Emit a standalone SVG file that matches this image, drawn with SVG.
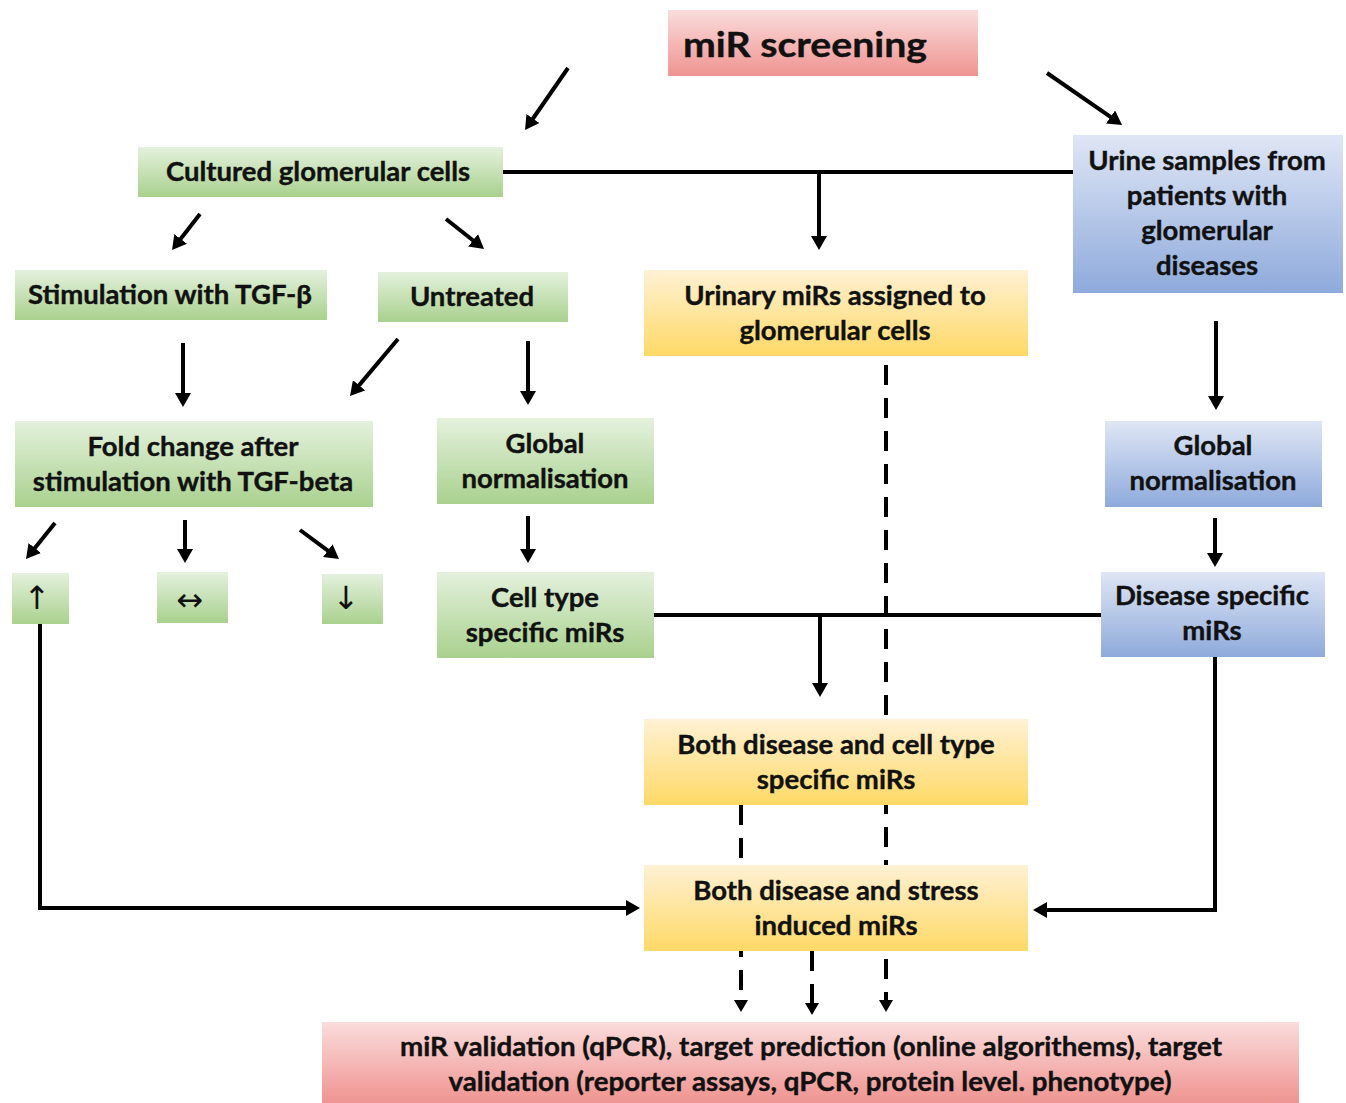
<svg xmlns="http://www.w3.org/2000/svg" width="1346" height="1103" viewBox="0 0 1346 1103">
<defs>
<linearGradient id="gGreen" x1="0" y1="0" x2="0" y2="1"><stop offset="0" stop-color="#e4f1dd"/><stop offset="1" stop-color="#a9d18e"/></linearGradient>
<linearGradient id="gYellow" x1="0" y1="0" x2="0" y2="1"><stop offset="0" stop-color="#fff1d4"/><stop offset="1" stop-color="#ffd966"/></linearGradient>
<linearGradient id="gBlue" x1="0" y1="0" x2="0" y2="1"><stop offset="0" stop-color="#dfe6f5"/><stop offset="1" stop-color="#8eaadb"/></linearGradient>
<linearGradient id="gPink" x1="0" y1="0" x2="0" y2="1"><stop offset="0" stop-color="#fadcdc"/><stop offset="1" stop-color="#ef9490"/></linearGradient>
<marker id="ah" viewBox="0 0 14 16" refX="3" refY="8" markerWidth="14" markerHeight="16" markerUnits="userSpaceOnUse" orient="auto"><path d="M0,0 L14,8 L0,16 z" fill="#000"/></marker>
<marker id="ahs" viewBox="0 0 12 14" refX="3" refY="7" markerWidth="12" markerHeight="14" markerUnits="userSpaceOnUse" orient="auto"><path d="M0,0 L12,7 L0,14 z" fill="#000"/></marker>
<style>
.c{fill:none;stroke:#000;stroke-width:4}
.a{marker-end:url(#ah)}
.d{stroke-dasharray:20 13;marker-end:url(#ahs)}
.t{font-family:Lato,"Open Sans",sans-serif;font-weight:bold;font-size:27.5px;fill:#111;text-anchor:middle;stroke:#111;stroke-width:0.4px}
.sym{font-family:"DejaVu Sans",sans-serif;font-size:32px;fill:#111;text-anchor:middle}
.green{fill:url(#gGreen)}
.yellow{fill:url(#gYellow)}
.blue{fill:url(#gBlue)}
.pink{fill:url(#gPink)}
</style>
</defs>
<rect width="1346" height="1103" fill="#fff"/>
<g id="connectors">
<path class="c a" d="M568,68 L531.3,121"/>
<path class="c a" d="M1047,73 L1113,118.7"/>
<path class="c" d="M503,172 H1073"/>
<path class="c a" d="M819,172 V239"/>
<path class="c a" d="M200,214 L178.8,241.3"/>
<path class="c a" d="M446,219 L475.4,242.2"/>
<path class="c a" d="M183,343 V396"/>
<path class="c a" d="M398,339 L357.1,387.6"/>
<path class="c a" d="M528,341 V394"/>
<path class="c a" d="M1216,321 V399"/>
<path class="c a" d="M55,523 L32.9,550.4"/>
<path class="c a" d="M185,520 V552"/>
<path class="c a" d="M300,530 L330.2,552.4"/>
<path class="c a" d="M528,516 V552"/>
<path class="c a" d="M1215,518 V556"/>
<path class="c" d="M654,615 H1101"/>
<path class="c a" d="M820,615 V686"/>
<path class="c a" d="M40,624 V908 H629"/>
<path class="c a" d="M1215,657 V910 H1044"/>
<path class="c d" d="M886,365 V1003"/>
<path class="c d" d="M741,805 V1003"/>
<path class="c d" d="M812,951 V1006"/>
</g>
<g id="n-screening"><rect class="pink" x="668" y="10" width="310" height="66"/><text class="t" x="683" y="57" style="font-size:35px;text-anchor:start" textLength="244" lengthAdjust="spacingAndGlyphs">miR screening</text></g>
<g id="n-cultured"><rect class="green" x="138" y="147" width="365" height="50"/><text class="t" x="318" y="181">Cultured glomerular cells</text></g>
<g id="n-stim"><rect class="green" x="15" y="270" width="312" height="50"/><text class="t" x="170" y="304">Stimulation with TGF-β</text></g>
<g id="n-untreated"><rect class="green" x="378" y="272" width="190" height="50"/><text class="t" x="472" y="306">Untreated</text></g>
<g id="n-urinary"><rect class="yellow" x="644" y="270" width="384" height="86"/><text class="t" x="835" y="305">Urinary miRs assigned to</text><text class="t" x="835" y="340">glomerular cells</text></g>
<g id="n-urine"><rect class="blue" x="1073" y="135" width="270" height="158"/><text class="t" x="1207" y="170">Urine samples from</text><text class="t" x="1207" y="205">patients with</text><text class="t" x="1207" y="240">glomerular</text><text class="t" x="1207" y="275">diseases</text></g>
<g id="n-fold"><rect class="green" x="15" y="421" width="358" height="86"/><text class="t" x="193" y="456">Fold change after</text><text class="t" x="193" y="491">stimulation with TGF-beta</text></g>
<g id="n-global-green"><rect class="green" x="437" y="418" width="217" height="86"/><text class="t" x="545" y="453">Global</text><text class="t" x="545" y="488">normalisation</text></g>
<g id="n-global-blue"><rect class="blue" x="1105" y="421" width="217" height="86"/><text class="t" x="1213" y="455">Global</text><text class="t" x="1213" y="490">normalisation</text></g>
<g id="n-up"><rect class="green" x="12" y="573" width="57" height="51"/><text class="sym" x="37" y="609">↑</text></g>
<g id="n-both"><rect class="green" x="157" y="572" width="71" height="51"/><text class="sym" x="190" y="611">↔</text></g>
<g id="n-down"><rect class="green" x="322" y="574" width="61" height="50"/><text class="sym" x="346" y="609">↓</text></g>
<g id="n-celltype"><rect class="green" x="437" y="572" width="217" height="86"/><text class="t" x="545" y="607">Cell type</text><text class="t" x="545" y="642">specific miRs</text></g>
<g id="n-disease"><rect class="blue" x="1101" y="572" width="224" height="85"/><text class="t" x="1212" y="605">Disease specific</text><text class="t" x="1212" y="640">miRs</text></g>
<g id="n-bothcell"><rect class="yellow" x="644" y="719" width="384" height="86"/><text class="t" x="836" y="754">Both disease and cell type</text><text class="t" x="836" y="789">specific miRs</text></g>
<g id="n-bothstress"><rect class="yellow" x="644" y="865" width="384" height="86"/><text class="t" x="836" y="900">Both disease and stress</text><text class="t" x="836" y="935">induced miRs</text></g>
<g id="n-validation"><rect class="pink" x="322" y="1022" width="977" height="81"/><text class="t" x="811" y="1056" textLength="822" lengthAdjust="spacingAndGlyphs">miR validation (qPCR), target prediction (online algorithems), target</text><text class="t" x="810" y="1091" textLength="723" lengthAdjust="spacingAndGlyphs">validation (reporter assays, qPCR, protein level. phenotype)</text></g>
</svg>
